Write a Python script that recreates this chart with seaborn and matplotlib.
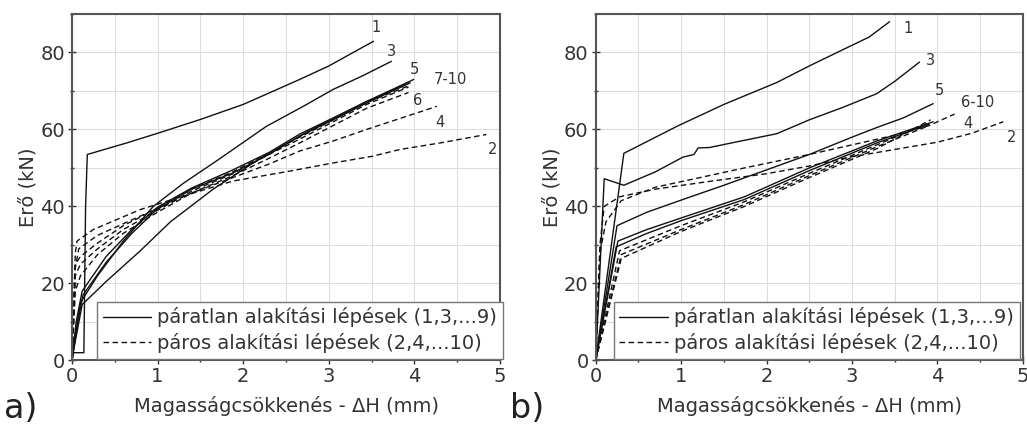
import numpy as np
import pandas as pd
import matplotlib
matplotlib.use('Agg')
import matplotlib.pyplot as plt
from matplotlib.lines import Line2D
from matplotlib.ticker import MultipleLocator
import seaborn as sns

# ---- panel a) data (x: mm, y: kN) ----
a1_x = [0, 0.02, 0.14, 0.16, 0.18, 0.64, 1.0, 1.5, 2.0, 2.66, 3.0, 3.52]
a1_y = [0, 2, 2, 40, 53.5, 56.5, 59, 62.6, 66.5, 73, 76.5, 82.9]
a3_x = [0, 0.04, 0.1, 0.3, 0.6, 0.95, 1.3, 1.7, 2.27, 2.7, 3.05, 3.4, 3.73]
a3_y = [0, 6, 15, 22, 31, 40, 46, 52, 60.8, 66, 70.4, 74, 77.7]
a5_x = [0, 0.04, 0.12, 0.4, 0.8, 1.15, 1.65, 2.2, 2.8, 3.4, 3.99]
a5_y = [0, 5, 14.5, 20.5, 28.5, 36, 44.5, 52.5, 60, 66.5, 73]
a7_x = [0, 0.05, 0.13, 0.4, 0.7, 0.99, 1.4, 1.88, 2.3, 2.66, 3.05, 3.44, 3.95]
a7_y = [0, 8, 17, 25.5, 33, 39.2, 44.5, 48.7, 53.5, 58.3, 62.5, 66.9, 72.1]
a9_x = [0, 0.05, 0.12, 0.4, 0.7, 1.0, 1.4, 1.88, 2.3, 2.66, 3.05, 3.44, 3.93]
a9_y = [0, 10, 18, 27, 34, 39.8, 44.8, 49.5, 54, 58.8, 63, 67.3, 72.3]
a2_x = [0, 0.04, 0.06, 0.25, 0.8, 1.2, 1.88, 2.5, 3.05, 3.5, 3.83, 4.3, 4.84]
a2_y = [0, 28, 31, 34, 39.2, 42, 46.6, 49, 51.3, 53, 54.8, 56.5, 58.7]
a4_x = [0, 0.04, 0.08, 0.3, 0.6, 1.0, 1.4, 1.88, 2.3, 2.66, 3.05, 3.44, 3.85, 4.26]
a4_y = [0, 24, 29, 32.5, 35.5, 39.5, 43.5, 47.5, 51, 54.4, 57, 60, 63, 66]
a6_x = [0, 0.04, 0.1, 0.3, 0.6, 1.0, 1.4, 1.88, 2.3, 2.66, 3.05, 3.44, 3.93]
a6_y = [0, 18, 22, 27.5, 33, 38.5, 43.5, 48, 52.5, 56.5, 61, 65.5, 69.6]
a8_x = [0, 0.04, 0.1, 0.3, 0.6, 1.0, 1.4, 1.88, 2.3, 2.66, 3.05, 3.44, 3.93]
a8_y = [0, 22, 25, 29, 34, 39, 44, 48.5, 53.5, 57.5, 62, 66.5, 71]
a10_x = [0, 0.04, 0.1, 0.3, 0.6, 1.0, 1.4, 1.88, 2.3, 2.66, 3.05, 3.44, 3.95]
a10_y = [0, 25, 27, 30.5, 35, 39.5, 44.5, 49, 53.8, 58, 62.5, 67, 71.5]

# ---- panel b) data ----
b1_x = [0, 0.33, 0.95, 1.5, 2.12, 2.5, 2.9, 3.2, 3.44]
b1_y = [0, 53.8, 60.8, 66.5, 72.2, 76.5, 80.8, 84, 88]
b3_x = [0, 0.1, 0.33, 0.7, 1.02, 1.15, 1.2, 1.33, 1.7, 2.12, 2.5, 2.9, 3.29, 3.5, 3.79]
b3_y = [0, 47.2, 45.5, 49, 52.8, 53.5, 55.2, 55.3, 57, 58.9, 62.5, 65.8, 69.3, 72.5, 77.5]
b5_x = [0, 0.25, 0.6, 1.02, 1.5, 2.0, 2.5, 3.0, 3.29, 3.6, 3.95]
b5_y = [0, 35, 38.5, 41.8, 45.5, 49.5, 53.5, 58, 60.5, 63, 66.7]
b7_x = [0, 0.26, 0.6, 1.0, 1.74, 2.5, 3.29, 3.95]
b7_y = [0, 31, 34, 37, 42.5, 50, 57, 62]
b9_x = [0, 0.24, 0.6, 1.0, 1.74, 2.5, 3.29, 3.9]
b9_y = [0, 29.5, 33, 36.3, 41.8, 49.3, 56.5, 61.3]
b2_x = [0, 0.05, 0.1, 0.28, 0.7, 1.33, 2.0, 2.5, 2.97, 3.5, 4.0, 4.4, 4.77]
b2_y = [0, 30, 40, 42.5, 44.5, 46.5, 48.5, 50.5, 52.8, 54.8, 56.7, 59, 62]
b4_x = [0, 0.05, 0.12, 0.3, 0.7, 1.16, 1.74, 2.5, 3.0, 3.5, 3.9, 4.2]
b4_y = [0, 28, 36, 41.5, 45, 47.2, 50, 53.5, 56, 58.5, 61, 64]
b6_x = [0, 0.3, 1.0, 1.74, 2.5, 3.29, 3.9]
b6_y = [0, 27.5, 34, 40.5, 48, 55.5, 61]
b8_x = [0, 0.28, 1.0, 1.74, 2.5, 3.29, 3.88]
b8_y = [0, 28.5, 35, 41.2, 48.6, 56, 61.5]
b10_x = [0, 0.3, 1.0, 1.74, 2.5, 3.29, 3.92]
b10_y = [0, 26.5, 33.5, 40, 47.5, 55, 62.5]

# curve labels: (text, x, y)
a_labels = [('1', 3.5, 86.5), ('3', 3.68, 80.3), ('5', 3.95, 75.6), ('7-10', 4.22, 73),
            ('6', 3.98, 67.4), ('4', 4.24, 61.8), ('2', 4.86, 54.8)]
b_labels = [('1', 3.6, 86.3), ('3', 3.87, 78), ('5', 3.97, 70.1), ('6-10', 4.28, 67),
            ('4', 4.3, 61.6), ('2', 4.81, 58)]

leg_odd = 'páratlan alakítási lépések (1,3,...9)'
leg_even = 'páros alakítási lépések (2,4,...10)'

curves = {
    'a': [(1, a1_x, a1_y), (3, a3_x, a3_y), (5, a5_x, a5_y), (7, a7_x, a7_y), (9, a9_x, a9_y),
          (2, a2_x, a2_y), (4, a4_x, a4_y), (6, a6_x, a6_y), (8, a8_x, a8_y), (10, a10_x, a10_y)],
    'b': [(1, b1_x, b1_y), (3, b3_x, b3_y), (5, b5_x, b5_y), (7, b7_x, b7_y), (9, b9_x, b9_y),
          (2, b2_x, b2_y), (4, b4_x, b4_y), (6, b6_x, b6_y), (8, b8_x, b8_y), (10, b10_x, b10_y)],
}

rows = []
for panel, lst in curves.items():
    for n, xs, ys in lst:
        kind = 'odd' if n % 2 else 'even'
        for x, y in zip(xs, ys):
            rows.append((panel, n, kind, x, y))
df = pd.DataFrame(rows, columns=['panel', 'curve', 'kind', 'x', 'y'])

sns.set_style('ticks')
plt.rcParams['font.family'] = ['DejaVu Sans']

fig = plt.figure(figsize=(10.27, 4.24), dpi=100)
ax_a = fig.add_axes([0.070, 0.150, 0.417, 0.817])
ax_b = fig.add_axes([0.580, 0.150, 0.416, 0.817])

for ax, panel, labels, legx, tag, tagx in [(ax_a, 'a', a_labels, 0.058, 'a)', 0.004),
                                           (ax_b, 'b', b_labels, 0.042, 'b)', 0.497)]:
    sub = df[df['panel'] == panel]
    sns.lineplot(data=sub, x='x', y='y', units='curve', estimator=None, style='kind',
                 dashes={'odd': '', 'even': (4, 2.5)}, color='#111111', lw=1.0,
                 sort=False, legend=False, ax=ax)
    ax.set_xlim(0, 5)
    ax.set_ylim(0, 90)
    ax.set_xticks([0, 1, 2, 3, 4, 5])
    ax.set_yticks([0, 20, 40, 60, 80])
    ax.xaxis.set_minor_locator(MultipleLocator(0.5))
    ax.yaxis.set_minor_locator(MultipleLocator(10))
    ax.grid(which='both', color='#dddddd', lw=0.8)
    ax.set_axisbelow(True)
    ax.tick_params(which='major', direction='inout', length=6, width=1, labelsize=14,
                   colors='#333333', pad=2)
    ax.tick_params(which='minor', direction='inout', length=3, width=1, colors='#333333')
    for s in ax.spines.values():
        s.set_color('#555555')
        s.set_linewidth(1.5)
    ax.set_xlabel('Magasságcsökkenés - ΔH (mm)', fontsize=14, color='#333333', labelpad=7)
    ax.set_ylabel('Erő (kN)', fontsize=14, color='#333333', labelpad=2)
    for txt, tx, ty in labels:
        ax.text(tx, ty, txt, fontsize=10.5, color='#333333', ha='left', va='center')
    handles = [Line2D([], [], color='#111111', lw=1.0, ls='-'),
               Line2D([], [], color='#111111', lw=1.0, ls=(0, (4, 2.5)))]
    leg = ax.legend(handles, [leg_odd, leg_even], loc='lower left',
                    bbox_to_anchor=(legx, 0.004), fontsize=14, frameon=True, fancybox=False,
                    framealpha=1, edgecolor='#777777', borderpad=0.3, labelspacing=0.3,
                    handlelength=2.5, handletextpad=0.3, borderaxespad=0)
    for t in leg.get_texts():
        t.set_color('#333333')
    fig.text(tagx, 0.015, tag, fontsize=24, color='#222222')

fig.savefig('out.png', dpi=100)
